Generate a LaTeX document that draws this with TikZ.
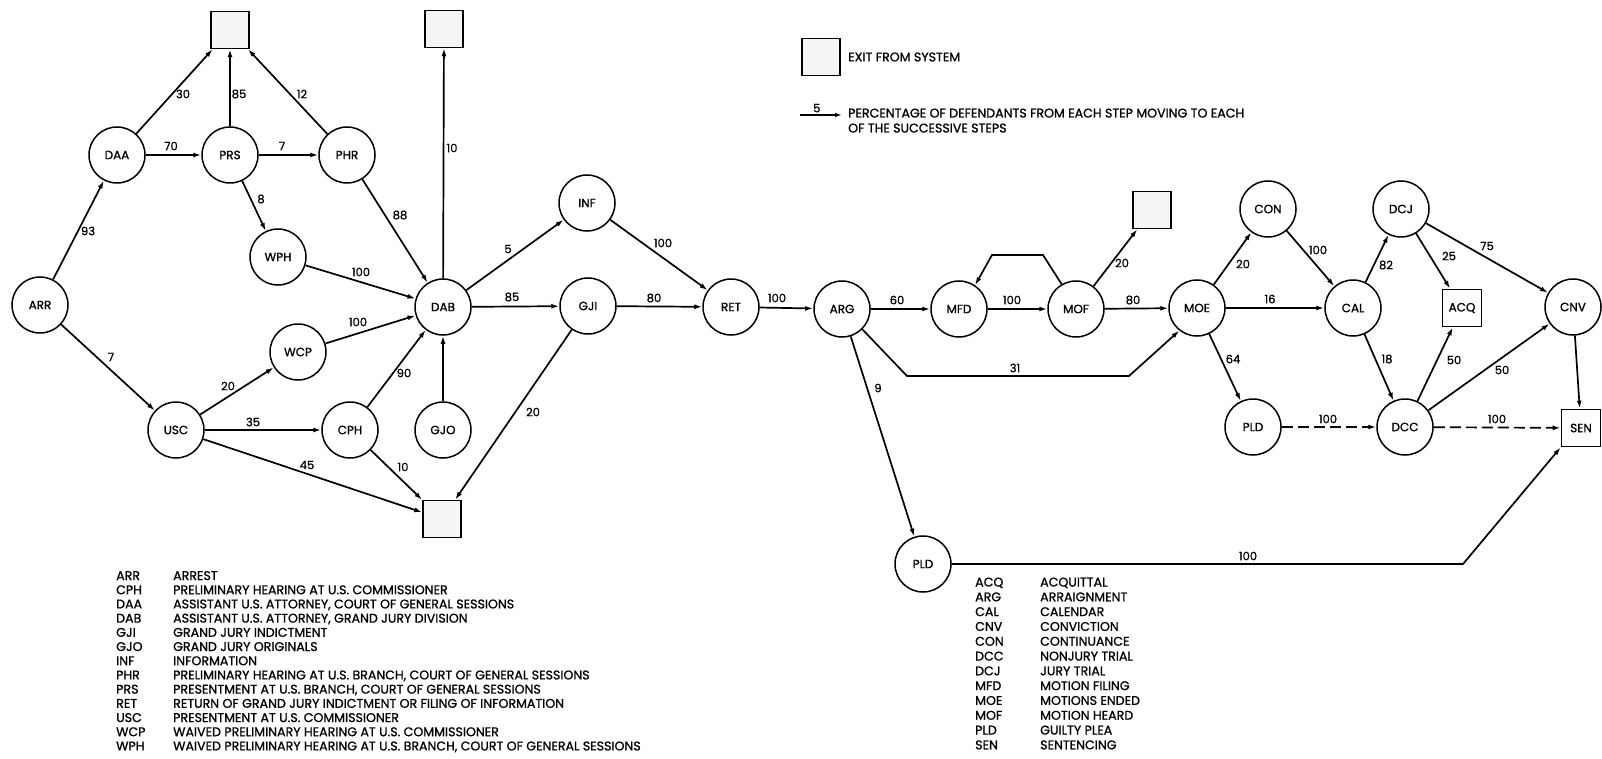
\documentclass[tikz,border=0pt]{standalone}
\usepackage{fontspec}
\setmainfont{Poppins}[FakeBold=1]
\usetikzlibrary{arrows.meta}
\begin{document}
\begin{tikzpicture}[x=1pt,y=-1pt,
  stepnode/.style={circle, draw, line width=1.5pt, minimum size=56pt, inner sep=0pt, fill=white, font=\fontsize{12}{14}\selectfont},
  exitbox/.style={rectangle, draw, line width=1.5pt, fill=gray!8, minimum width=38pt, minimum height=37pt, inner sep=0pt},
  sqnode/.style={rectangle, draw, line width=1.7pt, fill=white, minimum width=39pt, minimum height=37pt, inner sep=0pt, font=\fontsize{12}{14}\selectfont},
  flow/.style={line width=1.7pt, -{Latex[length=8pt,width=5pt]}},
  dflow/.style={flow, dash pattern=on 11pt off 5pt},
  lbl/.style={inner sep=0pt, font=\fontsize{11.5}{13}\selectfont},
  legtxt/.style={inner sep=0pt, anchor=base west, font=\fontsize{12.6}{15}\selectfont}
]
\useasboundingbox (0,0) rectangle (1602,759);

% ---- step nodes ----
\node[stepnode] (ARR) at (40,305) {ARR};
\node[stepnode] (DAA) at (117,155) {DAA};
\node[stepnode] (PRS) at (230,155) {PRS};
\node[stepnode] (PHR) at (347,155) {PHR};
\node[stepnode] (WPH) at (278,257) {WPH};
\node[stepnode] (DAB) at (443,307) {DAB};
\node[stepnode] (USC) at (176,430) {USC};
\node[stepnode] (WCP) at (298,352) {WCP};
\node[stepnode] (CPH) at (350,430) {CPH};
\node[stepnode] (GJO) at (443,430) {GJO};
\node[stepnode] (INF) at (587,203) {INF};
\node[stepnode] (GJI) at (588,306) {GJI};
\node[stepnode] (RET) at (731,307) {RET};
\node[stepnode] (ARG) at (842,309) {ARG};
\node[stepnode] (MFD) at (959,309) {MFD};
\node[stepnode] (MOF) at (1076,309) {MOF};
\node[stepnode] (MOE) at (1197,308) {MOE};
\node[stepnode] (CON) at (1268,209) {CON};
\node[stepnode] (CAL) at (1353,308) {CAL};
\node[stepnode] (DCJ) at (1401,209) {DCJ};
\node[stepnode] (CNV) at (1573,307) {CNV};
\node[stepnode] (PLDb) at (1253,427) {PLD};
\node[stepnode] (DCC) at (1405,427) {DCC};
\node[stepnode] (PLDa) at (923,564) {PLD};
\node[sqnode] (ACQ) at (1462,308) {ACQ};
\node[sqnode] (SEN) at (1581,428) {SEN};

% ---- exit boxes ----
\node[exitbox] (X1) at (230,30) {};
\node[exitbox] (X2) at (444,29) {};
\node[exitbox] (X3) at (442,519) {};
\node[exitbox] (X4) at (1152,210) {};

% ---- bend coordinates ----
\coordinate (loopR) at (1043,255);
\coordinate (loopL) at (992,255);
\coordinate (b31a) at (907,376);
\coordinate (b31b) at (1129,376);
\coordinate (bPLD) at (1463,564);

% ---- connectors ----
\draw[flow] (ARR) -- (DAA);
\draw[flow] (ARR) -- (USC);
\draw[flow] (DAA) -- (X1);
\draw[flow] (DAA) -- (PRS);
\draw[flow] (PRS) -- (X1);
\draw[flow] (PRS) -- (PHR);
\draw[flow] (PRS) -- (WPH);
\draw[flow] (PHR) -- (X1);
\draw[flow] (PHR) -- (DAB);
\draw[flow] (WPH) -- (DAB);
\draw[flow] (USC) -- (WCP);
\draw[flow] (USC) -- (CPH);
\draw[flow] (USC) -- (X3);
\draw[flow] (WCP) -- (DAB);
\draw[flow] (CPH) -- (DAB);
\draw[flow] (CPH) -- (X3);
\draw[flow] (GJO) -- (DAB);
\draw[flow] (DAB) -- (X2);
\draw[flow] (DAB) -- (INF);
\draw[flow] (DAB) -- (GJI);
\draw[flow] (GJI) -- (RET);
\draw[flow] (GJI) -- (X3);
\draw[flow] (INF) -- (RET);
\draw[flow] (RET) -- (ARG);
\draw[flow] (ARG) -- (MFD);
\draw[flow] (ARG.-45) -- (b31a) -- (b31b) -- (MOE.-128);
\draw[flow] (ARG) -- (PLDa);
\draw[flow] (MFD) -- (MOF);
\draw[flow] (MOF.120) -- (loopR) -- (loopL) -- (MFD.56);
\draw[flow] (MOF) -- (X4);
\draw[flow] (MOF) -- (MOE);
\draw[flow] (MOE) -- (CON);
\draw[flow] (MOE) -- (CAL);
\draw[flow] (MOE) -- (PLDb);
\draw[flow] (CON) -- (CAL);
\draw[flow] (CAL) -- (DCJ);
\draw[flow] (CAL) -- (DCC);
\draw[flow] (DCJ) -- (ACQ);
\draw[flow] (DCJ) -- (CNV);
\draw[flow] (DCC) -- (ACQ);
\draw[flow] (DCC) -- (CNV);
\draw[dflow] (DCC) -- (SEN);
\draw[dflow] (PLDb) -- (DCC);
\draw[flow] (CNV) -- (SEN);
\draw[flow] (PLDa.east) -- (bPLD) -- (SEN.south west);

% ---- connector labels ----
\node[lbl] (l1) at (88,231) {93};
\node[lbl] (l2) at (111,357) {7};
\node[lbl] (l3) at (183,94) {30};
\node[lbl] (l4) at (171,146) {70};
\node[lbl] (l5) at (239,94) {85};
\node[lbl] (l6) at (282,146) {7};
\node[lbl] (l7) at (261,199) {8};
\node[lbl] (l8) at (302,94) {12};
\node[lbl] (l9) at (400,215) {88};
\node[lbl] (l10) at (361,272) {100};
\node[lbl] (l11) at (228,386) {20};
\node[lbl] (l12) at (253,422) {35};
\node[lbl] (l13) at (307,465) {45};
\node[lbl] (l14) at (358,322) {100};
\node[lbl] (l15) at (404,373) {90};
\node[lbl] (l16) at (403,467) {10};
\node[lbl] (l17) at (452,148) {10};
\node[lbl] (l18) at (508,249) {5};
\node[lbl] (l19) at (512,297) {85};
\node[lbl] (l20) at (654,298) {80};
\node[lbl] (l21) at (533,412) {20};
\node[lbl] (l22) at (663,243) {100};
\node[lbl] (l23) at (777,298) {100};
\node[lbl] (l24) at (897,300) {60};
\node[lbl] (l25) at (1015,368) {31};
\node[lbl] (l26) at (878,388) {9};
\node[lbl] (l27) at (1012,300) {100};
\node[lbl] (l28) at (1122,263) {20};
\node[lbl] (l29) at (1133,300) {80};
\node[lbl] (l30) at (1243,264) {20};
\node[lbl] (l31) at (1270,299) {16};
\node[lbl] (l32) at (1233,359) {64};
\node[lbl] (l33) at (1318,250) {100};
\node[lbl] (l34) at (1386,265) {82};
\node[lbl] (l35) at (1387,359) {18};
\node[lbl] (l36) at (1449,256) {25};
\node[lbl] (l37) at (1487,246) {75};
\node[lbl] (l38) at (1454,360) {50};
\node[lbl] (l39) at (1502,370) {50};
\node[lbl] (l40) at (1328,419) {100};
\node[lbl] (l41) at (1497,419) {100};
\node[lbl] (l42) at (1248,556) {100};

% ---- key ----
\node[exitbox] (KX) at (821,57) {};
\node[legtxt, anchor=west] (KXt) at (848,57) {EXIT FROM SYSTEM};
\coordinate (KA) at (800,115);
\coordinate (KB) at (842,115);
\draw[line width=1.4pt, -{Latex[length=7pt,width=4.5pt]}] (KA) -- node[lbl, above=2pt, pos=0.4] (K5) {5} (KB);
\node[legtxt] (KT1) at (848,117.5) {PERCENTAGE OF DEFENDANTS FROM EACH STEP MOVING TO EACH};
\node[legtxt] (KT2) at (848,132.5) {OF THE SUCCESSIVE STEPS};

% ---- abbreviation legends ----
\foreach \a/\d [count=\i] in {
  ARR/ARREST,
  CPH/PRELIMINARY HEARING AT U.S. COMMISSIONER,
  DAA/ASSISTANT U.S. ATTORNEY{,} COURT OF GENERAL SESSIONS,
  DAB/ASSISTANT U.S. ATTORNEY{,} GRAND JURY DIVISION,
  GJI/GRAND JURY INDICTMENT,
  GJO/GRAND JURY ORIGINALS,
  INF/INFORMATION,
  PHR/PRELIMINARY HEARING AT U.S. BRANCH{,} COURT OF GENERAL SESSIONS,
  PRS/PRESENTMENT AT U.S. BRANCH{,} COURT OF GENERAL SESSIONS,
  RET/RETURN OF GRAND JURY INDICTMENT OR FILING OF INFORMATION,
  USC/PRESENTMENT AT U.S. COMMISSIONER,
  WCP/WAIVED PRELIMINARY HEARING AT U.S. COMMISSIONER,
  WPH/WAIVED PRELIMINARY HEARING AT U.S. BRANCH{,} COURT OF GENERAL SESSIONS}
{
  \node[legtxt] (LA\i) at (116,{580+(\i-1)*14.2}) {\a};
  \node[legtxt] (LD\i) at (173,{580+(\i-1)*14.2}) {\d};
}
\foreach \a/\d [count=\i] in {
  ACQ/ACQUITTAL, ARG/ARRAIGNMENT, CAL/CALENDAR, CNV/CONVICTION,
  CON/CONTINUANCE, DCC/NONJURY TRIAL, DCJ/JURY TRIAL, MFD/MOTION FILING,
  MOE/MOTIONS ENDED, MOF/MOTION HEARD, PLD/GUILTY PLEA, SEN/SENTENCING}
{
  \node[legtxt] (RA\i) at (975,{586.5+(\i-1)*14.8}) {\a};
  \node[legtxt] (RD\i) at (1040,{586.5+(\i-1)*14.8}) {\d};
}
\end{tikzpicture}
\end{document}
